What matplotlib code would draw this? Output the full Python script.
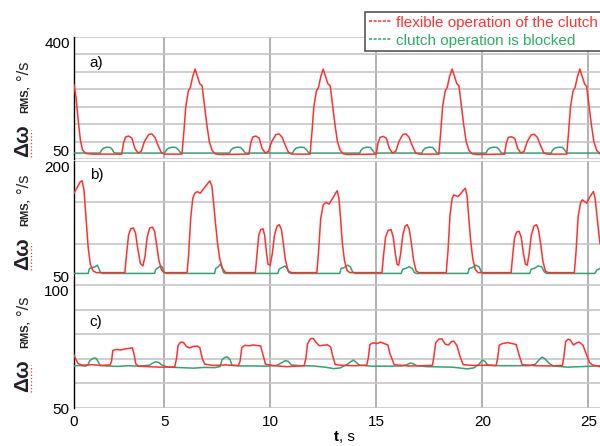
import numpy as np
import matplotlib.pyplot as plt
from matplotlib.lines import Line2D

plt.rcParams['font.family'] = ['Liberation Sans', 'DejaVu Sans']

# time (s), angular velocity RMS (deg/s)
red_a = [(0.75, 263), (0.85, 225), (0.95, 160), (1.05, 105), (1.15, 76), (1.3, 66), (1.6, 64),
         (3.0, 64), (3.08, 95), (3.18, 113), (3.32, 116), (3.48, 110), (3.62, 80), (3.77, 67), (3.92, 72),
         (4.07, 100), (4.27, 120), (4.42, 122), (4.57, 112), (4.72, 88), (4.87, 68), (5.02, 64),
         (5.84, 64), (5.92, 120), (6.02, 200), (6.14, 245), (6.24, 256), (6.34, 285), (6.46, 308), (6.58, 285),
         (6.68, 266), (6.79, 260), (6.89, 210), (7.01, 150), (7.13, 100), (7.26, 75), (7.41, 65), (7.6, 63),
         (9.0, 64), (9.08, 95), (9.18, 113), (9.32, 116), (9.48, 110), (9.62, 80), (9.77, 67), (9.92, 72),
         (10.07, 100), (10.27, 120), (10.42, 122), (10.57, 112), (10.72, 88), (10.87, 68), (11.02, 64),
         (11.88, 64), (11.96, 120), (12.06, 200), (12.18, 245), (12.28, 256), (12.38, 285), (12.5, 308), (12.62, 285),
         (12.72, 266), (12.83, 260), (12.93, 210), (13.05, 150), (13.17, 100), (13.3, 75), (13.45, 65), (13.65, 63),
         (15.0, 64), (15.08, 95), (15.18, 112), (15.33, 115), (15.48, 109), (15.62, 80), (15.77, 67), (15.92, 72),
         (16.07, 100), (16.25, 120), (16.4, 122), (16.55, 112), (16.7, 88), (16.85, 68), (17.0, 64),
         (17.95, 64), (18.03, 120), (18.13, 200), (18.25, 245), (18.35, 256), (18.45, 285), (18.58, 308), (18.7, 285),
         (18.8, 266), (18.9, 260), (19.0, 210), (19.12, 150), (19.24, 100), (19.37, 75), (19.52, 65), (19.72, 63),
         (21.05, 64), (21.13, 95), (21.23, 112), (21.38, 114), (21.53, 109), (21.67, 80), (21.82, 67), (21.97, 72),
         (22.12, 100), (22.3, 119), (22.45, 121), (22.6, 112), (22.75, 88), (22.9, 68), (23.05, 64),
         (23.98, 64), (24.06, 120), (24.16, 200), (24.28, 245), (24.38, 256), (24.48, 285), (24.6, 308), (24.72, 285),
         (24.82, 266), (24.92, 258), (25.02, 210), (25.14, 150), (25.26, 100), (25.39, 75), (25.55, 65)]

green_a = [(0.75, 67), (1.98, 67), (2.04, 75), (2.14, 81), (2.3, 84), (2.46, 83), (2.56, 77), (2.64, 68), (2.75, 67),
           (5.02, 67), (5.1, 75), (5.2, 81), (5.38, 84), (5.56, 83), (5.68, 76), (5.78, 67),
           (8.08, 67), (8.14, 75), (8.24, 81), (8.42, 84), (8.6, 83), (8.72, 76), (8.82, 67),
           (11.06, 67), (11.12, 75), (11.22, 81), (11.42, 84), (11.6, 83), (11.72, 76), (11.82, 67),
           (14.22, 67), (14.28, 75), (14.38, 81), (14.55, 84), (14.72, 83), (14.82, 76), (14.92, 67),
           (17.15, 67), (17.21, 75), (17.31, 81), (17.48, 84), (17.66, 83), (17.76, 76), (17.86, 67),
           (20.18, 67), (20.24, 75), (20.34, 81), (20.52, 84), (20.7, 83), (20.8, 76), (20.9, 67),
           (23.25, 67), (23.31, 75), (23.41, 81), (23.6, 84), (23.78, 83), (23.88, 76), (23.98, 67), (25.55, 67)]

red_b = [(0.75, 161), (0.9, 168), (1.05, 175), (1.13, 176), (1.22, 165), (1.32, 130), (1.42, 95), (1.52, 75),
         (1.65, 67), (1.8, 65),
         (3.15, 65), (3.22, 85), (3.32, 110), (3.42, 118), (3.55, 119), (3.65, 113), (3.75, 95), (3.88, 76),
         (4.0, 73), (4.1, 85), (4.2, 108), (4.32, 119), (4.45, 120), (4.55, 115), (4.65, 98), (4.75, 80),
         (4.88, 68), (5.0, 65),
         (6.08, 65), (6.15, 85), (6.25, 130), (6.35, 155), (6.45, 161), (6.56, 163), (6.7, 161), (6.85, 166),
         (7.0, 171), (7.15, 176), (7.25, 170), (7.33, 150), (7.42, 125), (7.52, 100), (7.62, 82), (7.75, 70), (7.9, 65),
         (9.3, 65), (9.37, 85), (9.46, 110), (9.55, 117), (9.66, 118), (9.74, 110), (9.82, 90), (9.9, 75),
         (10.0, 74), (10.1, 88), (10.2, 110), (10.32, 121), (10.43, 123), (10.53, 117), (10.62, 100), (10.72, 80),
         (10.85, 67), (11.0, 65),
         (12.2, 65), (12.28, 90), (12.38, 130), (12.5, 147), (12.62, 150), (12.78, 148), (12.95, 155), (13.08, 161),
         (13.16, 164), (13.24, 155), (13.32, 130), (13.4, 101), (13.5, 80), (13.62, 68), (13.75, 65),
         (15.27, 65), (15.34, 85), (15.44, 108), (15.56, 116), (15.7, 117), (15.8, 108), (15.9, 88), (15.98, 75),
         (16.06, 74), (16.15, 88), (16.25, 110), (16.36, 121), (16.46, 123), (16.56, 117), (16.66, 100), (16.76, 80),
         (16.88, 67), (17.0, 65),
         (18.3, 65), (18.38, 90), (18.48, 135), (18.58, 155), (18.66, 159), (18.85, 157), (19.0, 161), (19.12, 165),
         (19.2, 167), (19.28, 158), (19.36, 133), (19.45, 104), (19.55, 82), (19.67, 69), (19.8, 65),
         (21.36, 65), (21.43, 85), (21.52, 107), (21.62, 114), (21.74, 115), (21.84, 107), (21.94, 88), (22.04, 75),
         (22.12, 74), (22.21, 88), (22.31, 110), (22.43, 121), (22.55, 123), (22.65, 117), (22.75, 100), (22.85, 80),
         (22.97, 67), (23.1, 65),
         (24.34, 65), (24.42, 90), (24.52, 133), (24.64, 150), (24.72, 153), (24.92, 149), (25.06, 156), (25.18, 161),
         (25.24, 163), (25.32, 155), (25.4, 135), (25.47, 118), (25.55, 100)]

green_b = [(0.75, 64), (1.42, 64), (1.48, 70), (1.6, 71), (1.75, 72), (1.85, 74), (1.92, 70), (2.0, 65), (2.1, 64),
           (4.55, 64), (4.6, 69), (4.72, 71), (4.85, 73), (4.93, 71), (5.0, 65), (5.1, 64),
           (7.38, 64), (7.43, 70), (7.55, 72), (7.65, 75), (7.72, 72), (7.8, 65), (7.9, 64),
           (10.36, 64), (10.42, 69), (10.55, 71), (10.7, 73), (10.8, 70), (10.88, 65), (11.0, 64),
           (13.28, 64), (13.34, 70), (13.48, 71), (13.65, 74), (13.78, 72), (13.88, 66), (14.0, 64),
           (16.18, 64), (16.24, 69), (16.38, 70), (16.55, 72), (16.7, 70), (16.8, 65), (16.9, 64),
           (19.32, 64), (19.38, 70), (19.52, 71), (19.7, 74), (19.85, 72), (19.95, 66), (20.05, 64),
           (22.24, 64), (22.3, 69), (22.45, 70), (22.62, 73), (22.8, 72), (22.92, 66), (23.02, 64),
           (25.3, 64), (25.4, 68), (25.55, 70)]

red_c = [(0.75, 71.5), (0.82, 70), (0.95, 68), (1.15, 67.4), (1.6, 67.6), (2.0, 67.3), (2.45, 67.5),
         (2.52, 69), (2.58, 73.4), (2.75, 73.8), (2.95, 73.6), (3.15, 74), (3.35, 74.2), (3.5, 74.5), (3.58, 72),
         (3.66, 68), (3.78, 67), (4.3, 66.8), (4.8, 66.6), (5.5, 66.7),
         (5.58, 70), (5.66, 75.5), (5.78, 76.8), (5.92, 76.6), (6.05, 75), (6.2, 74.4), (6.35, 75), (6.55, 75.2),
         (6.68, 74.6), (6.8, 70), (6.92, 67.8), (7.3, 67.3), (7.9, 67.5), (8.5, 67.2),
         (8.58, 69), (8.66, 74.5), (8.8, 75.5), (9.0, 75.3), (9.2, 75.6), (9.4, 75.4), (9.55, 75.2), (9.65, 72),
         (9.78, 67.8), (10.2, 67.2), (10.8, 66.8), (11.6, 67.2),
         (11.68, 70), (11.76, 76), (11.9, 78.2), (12.03, 78.3), (12.15, 76.8), (12.32, 75.3), (12.5, 75.5),
         (12.7, 75.7), (12.85, 74.8), (12.95, 71), (13.07, 67.6), (13.5, 67.3), (14.0, 67.2), (14.55, 67.4),
         (14.62, 70), (14.7, 75.8), (14.85, 76.5), (15.05, 76.2), (15.2, 76.8), (15.35, 76.3), (15.55, 75.6),
         (15.65, 72), (15.85, 67.6), (16.5, 67.1), (17.2, 67.2), (17.65, 67.3),
         (17.72, 71), (17.8, 76.5), (17.95, 78), (18.1, 78.1), (18.25, 76), (18.4, 75.6), (18.55, 77), (18.65, 77.2),
         (18.8, 75.5), (18.95, 71), (19.1, 67.6), (19.6, 67.3), (20.2, 67.4), (20.65, 67.2),
         (20.72, 70), (20.8, 75.5), (20.95, 76.2), (21.1, 76.4), (21.2, 76.6), (21.4, 76.2), (21.6, 75.8),
         (21.72, 72), (21.88, 67.6), (22.5, 67.2), (23.2, 67.1), (23.78, 67.3),
         (23.85, 71), (23.93, 77), (24.05, 78), (24.15, 77.6), (24.3, 75.6), (24.45, 76.5), (24.57, 76.8),
         (24.75, 75.5), (24.9, 72), (25.05, 68.5), (25.2, 67.5), (25.55, 66.8)]

green_c = [(0.75, 67.1), (1.0, 67.3), (1.3, 67.0), (1.4, 67.5), (1.5, 69.3), (1.65, 70.2), (1.78, 70.3), (1.88, 69),
           (1.98, 67.3), (2.3, 67.1), (2.8, 66.9), (3.3, 67.2), (3.8, 67.0), (4.3, 67.4), (4.45, 68.2), (4.6, 68.8),
           (4.75, 68.5), (4.9, 67.4), (5.2, 66.6), (5.8, 66.4), (6.4, 66.2), (6.9, 66.5), (7.4, 66.4), (7.65, 66.9),
           (7.72, 69.5), (7.85, 70.5), (7.97, 70.8), (8.1, 69.8), (8.2, 67.4), (8.6, 67.1), (9.2, 67.1), (9.8, 67.0),
           (10.3, 67.3), (10.5, 68.2), (10.7, 69.2), (10.85, 69), (11.0, 67.5), (11.4, 67.2), (12.0, 67.1),
           (12.6, 66.6), (13.0, 66.0), (13.3, 66.3), (13.6, 67.6), (13.8, 68.8), (13.92, 69.5), (14.05, 68.6),
           (14.2, 67.4), (14.8, 67.0), (15.5, 67.0), (16.2, 67.1), (16.45, 67.6), (16.6, 68.3), (16.75, 68),
           (16.9, 67.2), (17.4, 66.8), (18.0, 66.7), (18.6, 66.6), (19.0, 66.2), (19.3, 65.9), (19.6, 66.3),
           (19.85, 67.8), (20.0, 69.5), (20.12, 69), (20.25, 67.5), (20.8, 67.2), (21.5, 67.2), (22.2, 67.2),
           (22.5, 67.8), (22.7, 69.8), (22.83, 70.7), (22.95, 70), (23.15, 68.2), (23.35, 67.1), (24.0, 66.6),
           (24.6, 66.8), (25.2, 67.0), (25.55, 67.2)]

x_ticks = [0.75, 5, 10, 15, 20, 25]
x_ticklabels = ['0', '5', '10', '15', '20', '25']
y_limits = [(50, 400), (50, 200), (50, 100)]
y_steps = [50, 50, 10]
panel_names = ['a)', 'b)', 'c)']
series = [(red_a, green_a), (red_b, green_b), (red_c, green_c)]

RED = '#ff3030'
GREEN = '#35a072'

fig = plt.figure(figsize=(6, 4.46), dpi=100)
W, H = 600, 446

# panel extents in pixels: (top, bottom)
rows = [(37, 159), (161, 285), (285, 408)]
left = 74 / W
axes = []
for (top, bot) in rows:
    ax = fig.add_axes([left, 1 - bot / H, 1 - left, (bot - top) / H])
    axes.append(ax)

for i, ax in enumerate(axes):
    red, green = series[i]
    gt, gv = zip(*green)
    rt, rv = zip(*red)
    ax.plot(gt, gv, color=GREEN, lw=1.1, zorder=3)
    ax.plot(rt, rv, color=RED, lw=1.1, zorder=4)

    lo, hi = y_limits[i]
    ax.set_ylim(lo, hi)
    ax.set_xlim(0.75, 25.55)
    yt = np.arange(lo, hi + 0.1, y_steps[i])
    ax.set_yticks(yt)
    ax.set_yticklabels([str(int(v)) if v in (lo, hi) else '' for v in yt], fontsize=11)
    labs = ax.get_yticklabels()
    labs[-1].set_va('top')
    if i < 2:
        labs[0].set_va('bottom')
    ax.set_xticks(x_ticks)
    ax.grid(axis='y', color='#c6c6c6', lw=1.2)
    ax.grid(axis='x', color='#a4a4a4', lw=1.2)
    ax.tick_params(length=0, pad=3)
    for s in ['top', 'right', 'bottom']:
        ax.spines[s].set_visible(False)
    ax.spines['left'].set_color('black')
    ax.spines['left'].set_linewidth(1.0)
    ax.set_axisbelow(True)
    if i < 2:
        ax.set_xticklabels([])
    else:
        ax.set_xticklabels(x_ticklabels, fontsize=11)
        ax.tick_params(axis='x', pad=5)

axes[0].text(0.03, 0.787, panel_names[0], transform=axes[0].transAxes, fontsize=11, va='center')
axes[1].text(0.03, 0.887, panel_names[1], transform=axes[1].transAxes, fontsize=11, va='center')
axes[2].text(0.03, 0.70, panel_names[2], transform=axes[2].transAxes, fontsize=11, va='center')


# y-axis caption: bold "Δω", small bold "RMS," and the unit, read upwards
def add_ylabel(y_start):
    xb = 28 / W
    kw = dict(rotation=90, rotation_mode='anchor', ha='left', va='baseline', color='#222222')
    fig.text(xb, 1 - y_start / H, 'Δω', fontsize=15, fontweight='bold', **kw)
    fig.text(xb, 1 - (y_start - 44) / H, 'RMS,', fontsize=8, fontweight='bold', **kw)
    fig.text(xb, 1 - (y_start - 77) / H, '°/s', fontsize=12, **kw)
    fig.add_artist(Line2D([31 / W, 31 / W], [1 - y_start / H, 1 - (y_start - 27) / H],
                          color=RED, lw=0.9, ls=':'))


for y0 in (157, 270, 392):
    add_ylabel(y0)

fig.text(339 / W, 1 - 437 / H, 't', fontsize=11, fontweight='bold', ha='right', va='center')
fig.text(339 / W, 1 - 437 / H, ', s', fontsize=11, ha='left', va='center')

handles = [Line2D([], [], color=RED, lw=1.1, ls=(0, (2, 1))),
           Line2D([], [], color=GREEN, lw=1.1, ls=(0, (2, 1)))]
leg = axes[0].legend(handles, ['flexible operation of the clutch', 'clutch operation is blocked'],
                     loc='upper left', bbox_to_anchor=(365 / W, 1 - 12 / H), bbox_transform=fig.transFigure,
                     fontsize=11, frameon=True, fancybox=False, framealpha=1, edgecolor='#555555',
                     borderaxespad=0, borderpad=0.25, handlelength=1.5, handletextpad=0.3,
                     labelspacing=0.25)
leg.get_frame().set_linewidth(1.2)
for txt, c in zip(leg.get_texts(), ['#ff3333', '#2fae66']):
    txt.set_color(c)

plt.savefig('out.png', dpi=100)
